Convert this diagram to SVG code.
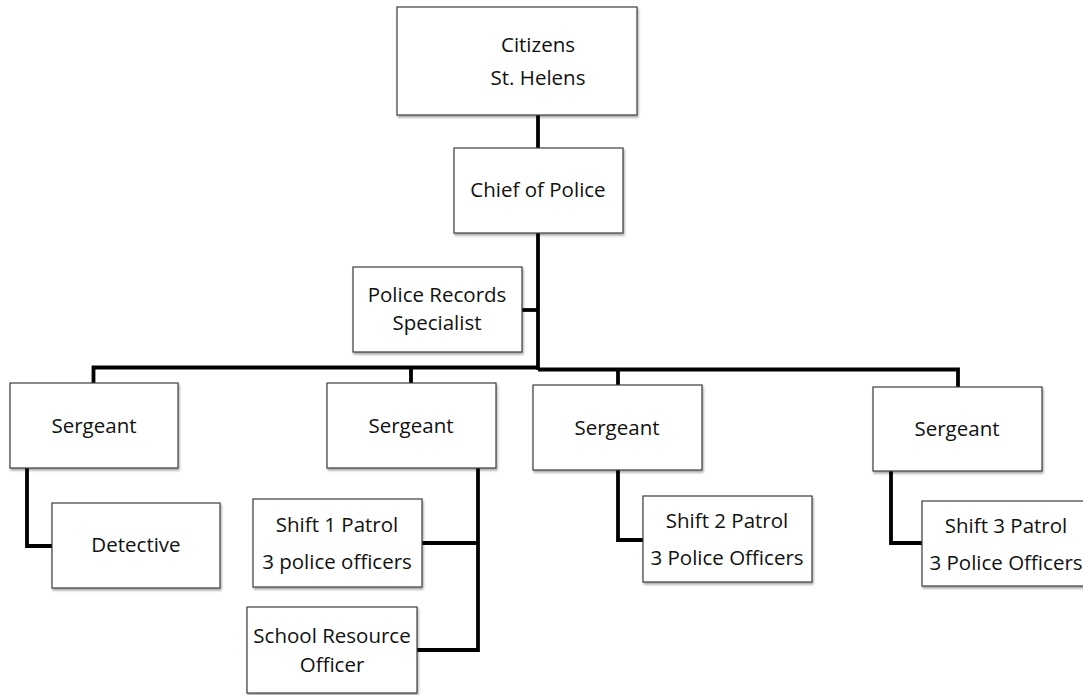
<svg xmlns="http://www.w3.org/2000/svg" width="1083" height="695" viewBox="0 0 1083 695">
<defs>
<filter id="sh" x="-5%" y="-5%" width="115%" height="120%">
<feDropShadow dx="1" dy="2" stdDeviation="1.2" flood-color="#000" flood-opacity="0.35"/>
</filter>
<style>
.box{fill:#fff;stroke:#3c3c3c;stroke-width:1.2;filter:url(#sh)}
.t{font-family:"Open Sans","Liberation Sans",sans-serif;font-size:20.5px;fill:#111;text-anchor:middle;dominant-baseline:central}
.c{fill:none;stroke:#000;stroke-width:3.8;stroke-linejoin:miter}
</style>
</defs>
<rect width="1083" height="695" fill="#fff"/>
<g id="connectors">
<path class="c" d="M538 115V148"/>
<path class="c" d="M538 233V370"/>
<path class="c" d="M522 310H538"/>
<path class="c" d="M538 367.5H93.5V383"/>
<path class="c" d="M411 367.5V383"/>
<path class="c" d="M538 369.5H958V387"/>
<path class="c" d="M618 369.5V385"/>
<path class="c" d="M27 468V546H52"/>
<path class="c" d="M478 468V650H417"/>
<path class="c" d="M422 543H478"/>
<path class="c" d="M618 470V540H643"/>
<path class="c" d="M891 471V543H922"/>
</g>
<g id="citizens"><rect class="box" x="397" y="7" width="240" height="108"/><text class="t" x="538" y="44">Citizens</text><text class="t" x="538" y="77">St. Helens</text></g>
<g id="chief"><rect class="box" x="454" y="148" width="169" height="85"/><text class="t" x="538" y="189">Chief of Police</text></g>
<g id="records"><rect class="box" x="353" y="267" width="169" height="85"/><text class="t" x="437" y="294">Police Records</text><text class="t" x="437" y="322">Specialist</text></g>
<g id="sergeant1"><rect class="box" x="10" y="383" width="168" height="85"/><text class="t" x="94" y="425">Sergeant</text></g>
<g id="detective"><rect class="box" x="52" y="503" width="168" height="85"/><text class="t" x="136" y="544">Detective</text></g>
<g id="sergeant2"><rect class="box" x="327" y="383" width="169" height="85"/><text class="t" x="411" y="425">Sergeant</text></g>
<g id="shift1"><rect class="box" x="253" y="499" width="169" height="88"/><text class="t" x="337" y="524">Shift 1 Patrol</text><text class="t" x="337" y="561">3 police officers</text></g>
<g id="sro"><rect class="box" x="247" y="607" width="170" height="86"/><text class="t" x="332" y="635">School Resource</text><text class="t" x="332" y="664">Officer</text></g>
<g id="sergeant3"><rect class="box" x="533" y="385" width="169" height="85"/><text class="t" x="617" y="427">Sergeant</text></g>
<g id="shift2"><rect class="box" x="643" y="496" width="169" height="86"/><text class="t" x="727" y="520">Shift 2 Patrol</text><text class="t" x="727" y="557">3 Police Officers</text></g>
<g id="sergeant4"><rect class="box" x="873" y="387" width="169" height="84"/><text class="t" x="957" y="428">Sergeant</text></g>
<g id="shift3"><rect class="box" x="922" y="501" width="169" height="85"/><text class="t" x="1006" y="525">Shift 3 Patrol</text><text class="t" x="1006" y="562">3 Police Officers</text></g>
</svg>
